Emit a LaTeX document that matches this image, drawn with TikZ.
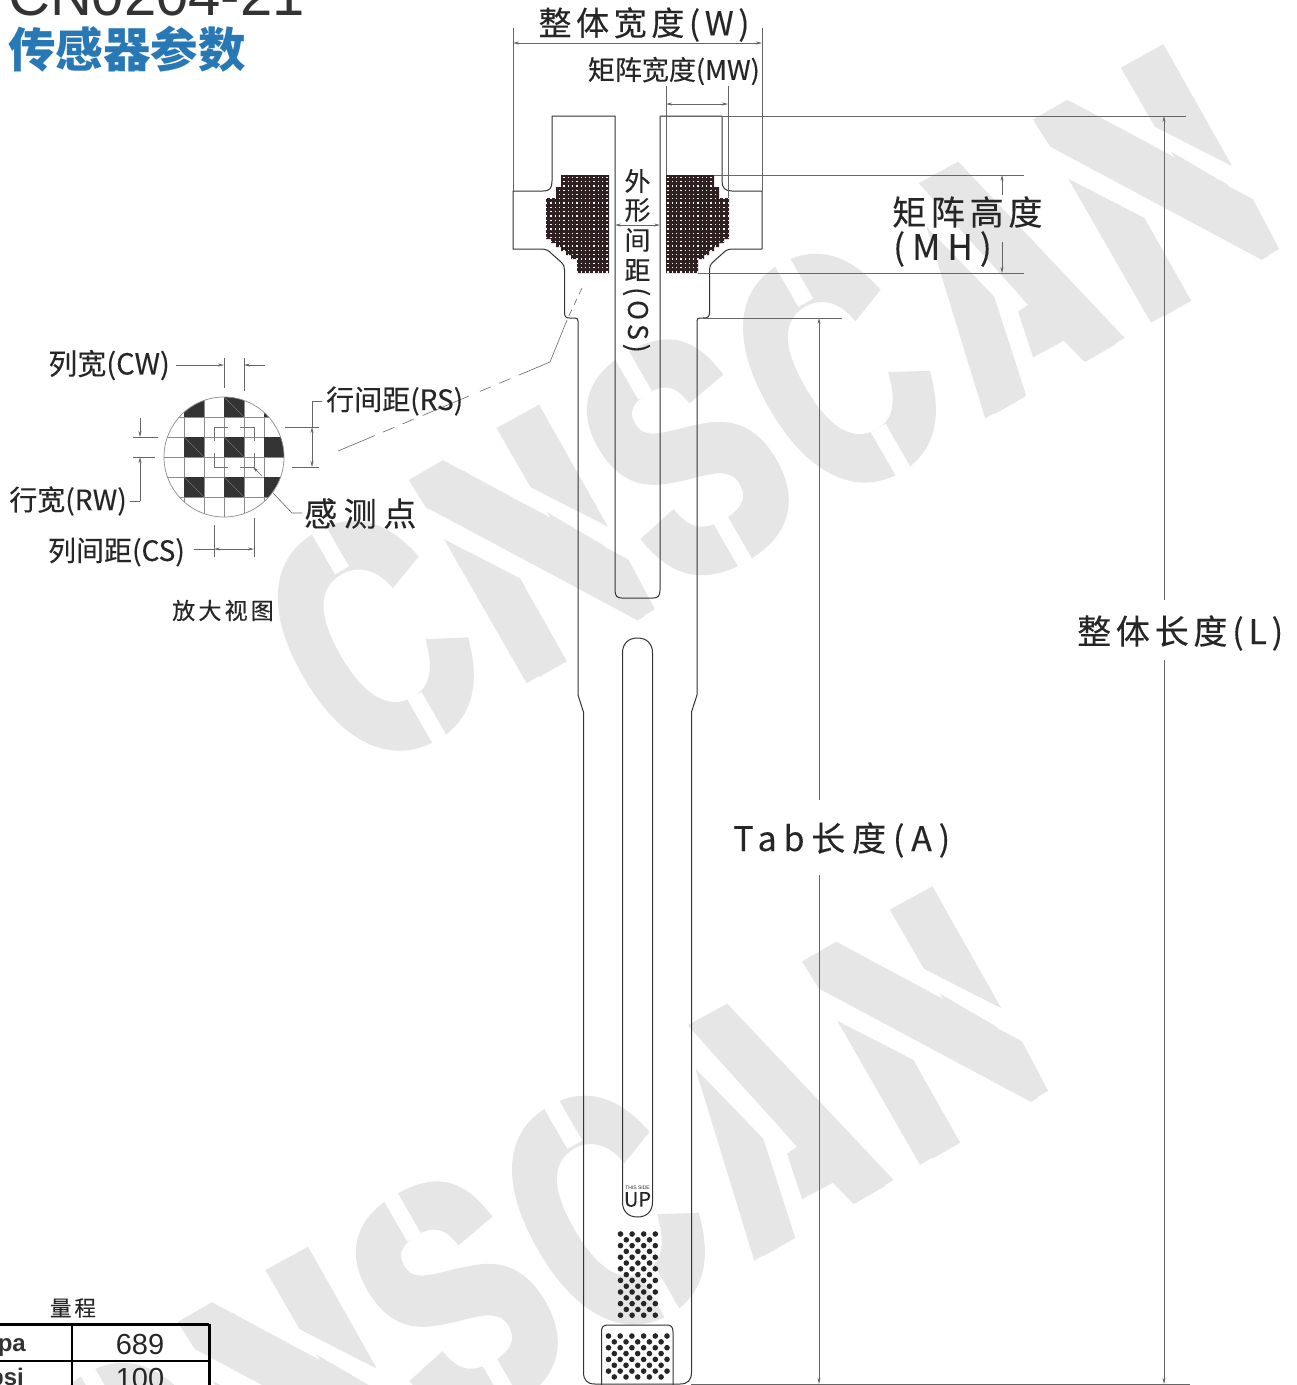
\documentclass[tikz,border=0pt]{standalone}
\usepackage{fontspec}
\usepackage{graphicx}
\usetikzlibrary{arrows.meta}
\setmainfont{Liberation Sans}
\newfontfamily\cjk[FakeBold=.25]{Noto Sans CJK SC}
\newfontfamily\cjkBold{Noto Sans CJK SC}
\newfontfamily\cjkA[LetterSpace=14,FakeBold=.25]{Noto Sans CJK SC}
\newfontfamily\cjkB[LetterSpace=20,FakeBold=.25]{Noto Sans CJK SC}
\newfontfamily\wmf[FakeBold=4]{Liberation Sans Bold}
\newcommand{\fs}[1]{\fontsize{#1}{#1}\selectfont}
\newcommand{\wl}[4]{\rlap{\hspace*{#1pt}\makebox[0pt][c]{\scalebox{#2}[#3]{#4}}}}
\definecolor{wm}{HTML}{E6E6E6}
\definecolor{ink}{HTML}{333333}
\definecolor{dimc}{HTML}{666666}
\definecolor{blueT}{HTML}{2878B5}
\definecolor{cellc}{HTML}{2E2020}
\tikzset{
  outline/.style={draw=ink,line width=1pt,line join=round},
  dimln/.style={draw=dimc,line width=.6pt},
  dimar/.style={dimln,{Stealth[length=6pt,width=3pt]}-{Stealth[length=6pt,width=3pt]}},
  onear/.style={dimln,-{Stealth[length=6pt,width=3pt]}},
  lab/.style={inner sep=0pt,text=black!85},
}
% one stencilled watermark in a frame turned by 30 degrees: #1 shift, #2 node name
\newcommand{\wmark}[2]{%
\begin{scope}[shift={#1},rotate=30]
\node[inner sep=0pt,text=wm,anchor=base west,transform shape] (#2) at (-54,850)
  {\wmf\fs{322}\makebox[1039pt][l]{\wl{57}{.72}{1}{C}\wl{243.5}{.6}{.92}{N}\wl{419.5}{.76}{1}{S}\wl{592.5}{.7}{1}{C}\wl{778.5}{.6}{.92}{A}\wl{964}{.6}{.92}{N}}};
% C, S, C bridges
\fill[white] (3,600) rectangle (19,665);
\fill[white] (3,810) rectangle (19,875);
\fill[white] (353,600) rectangle (369,665);
\fill[white] (356,810) rectangle (372,875);
\fill[white] (538,600) rectangle (555,665);
\fill[white] (538,810) rectangle (555,875);
% A
\fill[white] (689,659.5) -- (712.6,754) -- (691,855) -- (691,867) -- (758,867) -- (758,855) -- (751,827) -- (716,826) -- (726,779) -- (738,778) -- (704,618) -- (704,600) -- (689,600) -- cycle;
\fill[wm] (644,855) -- (691,855) -- (712.6,754) -- (689,659.5) -- cycle;
\fill[wm] (704,618) -- (749,619) -- (805,855) -- (758,855) -- (751,827) -- (716,826) -- (726,779) -- (738,778) -- cycle;
% N, N
\foreach \n in {114.5,835.4}{
\begin{scope}[shift={(\n,855)}]
  \fill[white] (1,-203) -- (127,0) -- (127,12) -- (45.7,12) -- (46.6,-94) -- (.4,-166) -- cycle;
  \fill[white] (39,-250) -- (150,-56) -- (165,-56) -- (165,-95) -- (148.6,-95) -- (101.4,-168) -- (101.4,-250) -- cycle;
  \fill[wm] (.4,-166) -- (46.6,-94) -- (45.7,0) -- (0,0) -- cycle;
  \fill[wm] (101.4,-236) -- (150,-235) -- (148.6,-95) -- (101.4,-168) -- cycle;
  \fill[wm] (-.6,-235) -- (39,-235) -- (150,-56) -- (148,0) -- (127,0) -- (.7,-203) -- cycle;
\end{scope}}
\end{scope}}
\begin{document}
\begin{tikzpicture}[x=1pt,y=-1pt]
\useasboundingbox (0,0) rectangle (1297,1385);
\clip (0,0) rectangle (1297,1385);
\fill[white] (0,0) rectangle (1297,1385);
% watermarks
\wmark{(0,0)}{wmA}
\wmark{(-231,842)}{wmB}
% title
\node[lab,anchor=base west,text=ink] (tA) at (8,15) {\fs{58}CN0204-21};
\node[lab,anchor=west,text=blueT] (tB) at (8,49) {\cjkBold\bfseries\fs{47.5}传感器参数};
% sensor outline
\draw[outline,rounded corners=0pt]
  (615,116) -- (615,590) .. controls (615,596) and (617,598) .. (622,598)
  -- (653,598) .. controls (658,598) and (660,596) .. (660,590)
  -- (660,116) -- (722,116) -- (722,181) .. controls (722,188) and (725,191) .. (732,191)
  -- (762,191) -- (762,249) -- (733,249) .. controls (727,249) and (725,251) .. (722,254)
  -- (713,262) .. controls (710,265) and (709.5,267) .. (709.5,270)
  -- (709.5,312) .. controls (709.5,317) and (708,318) .. (703,318)
  -- (700,318) .. controls (698,318) and (697,319) .. (697,321)
  -- (697,695) -- (691.5,712) -- (691.5,1372) .. controls (691.5,1380) and (688,1384) .. (680,1384)
  -- (595,1384) .. controls (587,1384) and (583.5,1380) .. (583.5,1372)
  -- (583.5,712) -- (578,695) -- (578,321) .. controls (578,319) and (577,318) .. (575,318)
  -- (570,318) .. controls (566,318) and (564.5,317) .. (564.5,312)
  -- (564.5,270) .. controls (564.5,267) and (564,265) .. (561,262)
  -- (552,254) .. controls (549,251) and (547,249) .. (541,249)
  -- (513,249) -- (513,191) -- (543,191) .. controls (550,191) and (552,188) .. (552,181)
  -- (552,116) -- cycle;
% slot
\draw[outline] (622.5,653) .. controls (622.5,644) and (628,638) .. (637.5,638)
  .. controls (647,638) and (652.5,644) .. (652.5,653)
  -- (652.5,1202) .. controls (652.5,1211) and (647,1217) .. (637.5,1217)
  .. controls (628,1217) and (622.5,1211) .. (622.5,1202) -- cycle;
\node[lab] (sideT) at (637.5,1188) {\fs{5}THIS SIDE};
\node[lab] (sideU) at (637.5,1199.5) {\cjk\fs{20}UP};
% matrices
\begin{scope}
\clip (561,175) -- (609,175) -- (609,273) -- (577,273) -- (577,259) -- (571,259) -- (571,255) -- (566,255) -- (566,251) -- (561,251) -- (561,247) -- (556,247) -- (556,243) -- (551,243) -- (551,239) -- (546,239) -- (546,198) -- (556,198) -- (556,187) -- (561,187) -- cycle;
\fill[cellc] (540,170) rectangle (615,280);
\foreach \i in {0,...,14}\foreach \j in {0,...,22}
  \fill[white] ({607-4.3*\i-.65},{177.3+4.3*\j-.65}) rectangle ++(1.3,1.3);
\end{scope}
\begin{scope}
\clip (714,175) -- (666,175) -- (666,273) -- (698,273) -- (698,259) -- (704,259) -- (704,255) -- (709,255) -- (709,251) -- (714,251) -- (714,247) -- (719,247) -- (719,243) -- (724,243) -- (724,239) -- (729,239) -- (729,198) -- (719,198) -- (719,187) -- (714,187) -- cycle;
\fill[cellc] (660,170) rectangle (735,280);
\foreach \i in {0,...,14}\foreach \j in {0,...,22}
  \fill[white] ({668+4.3*\i-.65},{177.3+4.3*\j-.65}) rectangle ++(1.3,1.3);
\end{scope}
% dots
\foreach \r in {0,...,14}{
  \pgfmathtruncatemacro{\odd}{mod(\r,2)}
  \ifnum\odd=0
    \foreach \c in {0,...,3} \fill[black!85] ({620.5+11.6*\c},{1234+5.8*\r}) circle (2.8);
  \else
    \foreach \c in {0,...,2} \fill[black!85] ({626.3+11.6*\c},{1234+5.8*\r}) circle (2.8);
  \fi
}
\draw[outline] (601.5,1385) -- (601.5,1332) .. controls (601.5,1327) and (603,1325) .. (608,1325)
  -- (667,1325) .. controls (671,1325) and (673,1327) .. (673,1332) -- (673,1385);
\foreach \r in {0,...,7}{
  \pgfmathtruncatemacro{\odd}{mod(\r,2)}
  \ifnum\odd=0
    \foreach \c in {0,...,5} \fill[black!85] ({608.5+11.7*\c},{1336+5.85*\r}) circle (2.8);
  \else
    \foreach \c in {0,...,4} \fill[black!85] ({614.3+11.7*\c},{1336+5.85*\r}) circle (2.8);
  \fi
}
% dimensions: W, MW
\coordinate (wL) at (513,43); \coordinate (wR) at (762,43);
\draw[dimln] (513,28) -- (513,191) (762,28) -- (762,191);
\draw[dimar] (wL) -- (wR);
\node[lab] (wT) at (644,24.5) {\cjkA\fs{33}整体宽度(W)};
\coordinate (mwL) at (666,104); \coordinate (mwR) at (728,104);
\draw[dimln] (666,86) -- (666,175) (728,86) -- (728,198);
\draw[dimar] (mwL) -- (mwR);
\node[lab,anchor=east] (mwT) at (760,71) {\cjk\fs{27}矩阵宽度(MW)};
% OS
\coordinate (osL) at (615,225); \coordinate (osR) at (660,225);
\draw[dimar] (osL) -- (osR);
\foreach \t/\y/\n in {外/180/osa,形/209/osb,间/239/osc,距/269/osd}
  \node[lab,fill=white,inner sep=1pt] (\n) at (637.5,\y+1) {\cjk\fs{26}\t};
\node[lab,rotate=-90] (ose) at (636.5,320) {\cjkA\fs{27}(OS)};
% MH
\draw[dimln] (714,175) -- (1024,175) (698,273) -- (1024,273);
\coordinate (mhA) at (1002,175); \coordinate (mhB) at (1002,195);
\coordinate (mhC) at (1002,242); \coordinate (mhD) at (1002,273);
\draw[onear] (mhB) -- (mhA);
\draw[onear] (mhC) -- (mhD);
\node[lab,anchor=west] (mhT) at (892,212) {\cjkA\fs{34}矩阵高度};
\node[lab,anchor=west] (mhU) at (893,249) {\cjkB\fs{35}(MH)};
% L
\draw[dimln] (660,116) -- (1186,116) (691,1384) -- (1190,1384);
\coordinate (lA) at (1164,116); \coordinate (lB) at (1164,600);
\coordinate (lC) at (1164,660); \coordinate (lD) at (1164,1384);
\draw[onear] (lB) -- (lA);
\draw[onear] (lC) -- (lD);
\node[lab,anchor=west] (lT) at (1077,633) {\cjkA\fs{34}整体长度(L)};
% A
\draw[dimln] (703,318) -- (842,318);
\coordinate (aA) at (819,318); \coordinate (aB) at (819,800);
\coordinate (aC) at (819,875); \coordinate (aD) at (819,1384);
\draw[onear] (aB) -- (aA);
\draw[onear] (aC) -- (aD);
\node[lab,anchor=west] (aT) at (733,840) {\cjkB\fs{34}Tab长度(A)};
% zoom lead
\coordinate (zA) at (582,288); \coordinate (zB) at (567,320);
\coordinate (zC) at (550,362); \coordinate (zD) at (338,451);
\draw[dimln,dash pattern=on 7pt off 5pt] (zA) -- (zB);
\draw[dimln] (zB) -- (zC);
\draw[dimln,dash pattern=on 34pt off 9pt on 12pt off 9pt on 12pt off 12pt on 50pt off 10pt on 12pt off 9pt on 12pt off 9pt on 40pt off 100pt] (zC) -- (zD);
% magnifier
\begin{scope}
\clip (224,457) circle (60);
\foreach \x in {184,204,224,244,264} \draw[black!45,line width=.6pt] (\x,390) -- (\x,525);
\foreach \y in {417,437,457,477,497} \draw[black!45,line width=.6pt] (155,\y) -- (295,\y);
\foreach \x/\y in {184/397,224/397,264/397,184/437,224/437,264/437,184/477,224/477,264/477}
  \fill[ink] (\x,\y) rectangle ++(20,20);
\foreach \x/\y in {184/437,224/437,184/477,224/477,224/397}
  \draw[black!55,line width=.4pt] (\x,\y) -- ++(20,20);
\end{scope}
\node[draw=black!45,line width=.7pt,circle,minimum size=120pt,inner sep=0pt] (circ) at (224,457) {};
\draw[black!55,line width=.7pt] (228,427) -- (214,427) -- (214,441) (240,427) -- (254,427) -- (254,441)
  (214,453) -- (214,467) -- (228,467) (240,467) -- (254,467) -- (254,453);
% CW
\draw[dimln] (224,358) -- (224,388) (244,358) -- (244,391);
\coordinate (cwA) at (176,365); \coordinate (cwB) at (224,365);
\coordinate (cwC) at (265,365); \coordinate (cwD) at (244,365);
\draw[onear] (cwA) -- (cwB);
\draw[onear] (cwC) -- (cwD);
\node[lab,anchor=east] (cwT) at (170,365) {\cjk\fs{29}列宽(CW)};
% RW
\draw[dimln] (133,437) -- (158,437) (133,457) -- (155,457);
\coordinate (rwA) at (140,418); \coordinate (rwB) at (140,437);
\coordinate (rwC) at (140,501); \coordinate (rwD) at (140,457); \coordinate (rwE) at (130,501);
\draw[onear] (rwA) -- (rwB);
\draw[dimln] (rwE) -- (rwC);
\draw[onear] (rwC) -- (rwD);
\node[lab,anchor=east] (rwT) at (127,501) {\cjk\fs{28}行宽(RW)};
% RS
\draw[dimln] (285,427) -- (319,427) (292,467) -- (319,467);
\coordinate (rsA) at (312,427); \coordinate (rsB) at (312,467);
\coordinate (rsC) at (312,401); \coordinate (rsD) at (322,401);
\draw[dimar] (rsA) -- (rsB);
\draw[dimln] (rsD) -- (rsC) -- (rsA);
\node[lab,anchor=west] (rsT) at (326,401) {\cjk\fs{28}行间距(RS)};
% CS
\draw[dimln] (214,525) -- (214,557) (254,518) -- (254,557);
\coordinate (csA) at (214,549); \coordinate (csB) at (254,549); \coordinate (csC) at (194,549);
\draw[dimln] (csC) -- (csA);
\draw[dimar] (csA) -- (csB);
\node[lab,anchor=east] (csT) at (185,552) {\cjk\fs{28}列间距(CS)};
% sensel
\coordinate (seA) at (253,467); \coordinate (seB) at (262,476);
\coordinate (seC) at (273,493); \coordinate (seD) at (292,513); \coordinate (seE) at (302,513);
\draw[onear] (seB) -- (seA);
\draw[dimln] (seC) -- (seD) -- (seE);
\node[lab,anchor=west] (seT) at (304,513.5) {\cjkB\fs{33}感测点};
\node[lab,anchor=west] (zmT) at (172,610.5) {\cjkA\fs{23}放大视图};
% table
\node[lab] (rgT) at (73,1308) {\cjkA\fs{21.5}量程};
\draw[black,line width=3pt] (0,1324) -- (209,1324);
\draw[black,line width=3pt] (209,1324) -- (209,1385);
\draw[black,line width=2pt] (72,1324) -- (72,1385) (0,1361) -- (209,1361);
\node[lab,anchor=base east,text=ink] (ka) at (26,1351) {\fs{24}\bfseries pa};
\node[lab,anchor=base east,text=ink] (kb) at (24,1385) {\fs{24}\bfseries psi};
\node[lab] (va) at (140,1344.5) {\fs{29}689};
\node[lab] (vb) at (140,1378.5) {\fs{29}100};
\end{tikzpicture}
\end{document}
